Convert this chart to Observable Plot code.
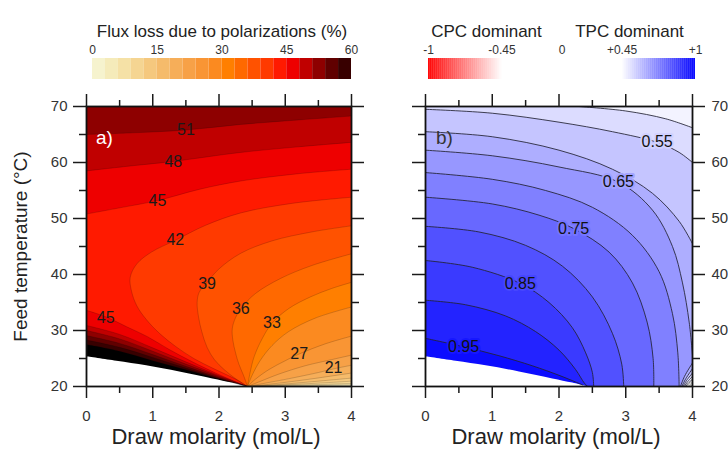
<!DOCTYPE html>
<html><head><meta charset="utf-8">
<script src="https://cdn.jsdelivr.net/npm/d3@7"></script>
<script src="https://cdn.jsdelivr.net/npm/@observablehq/plot@0.6"></script>
<style>
body{margin:0;background:#fff;}
#chart{position:relative;width:728px;height:457px;overflow:hidden;font-family:"Liberation Sans",Arial,sans-serif;background:#fff;}
#chart > svg{position:absolute;}
</style></head><body><div id="chart"></div>
<script>
// ---------------- data ----------------
const molarityDomain = [0, 4];
const tempDomain = [20, 70];
const molarityTicks = [0, 1, 2, 3, 4];
const molarityMinor = [0.5, 1.5, 2.5, 3.5];
const tempTicks = [20, 30, 40, 50, 60, 70];
const tempMinor = [25, 35, 45, 55, 65];

// panel a legend
const fluxLegendTitle = "Flux loss due to polarizations (%)";
const fluxLegendTicks = [0, 15, 30, 45, 60];
const fluxBandStarts = [0,3,6,9,12,15,18,21,24,27,30,33,36,39,42,45,48,51,54,57];
const fluxBandColors = ["#f6f3ce","#f5ebba","#f5e1a6","#f5d592","#f5c87e","#f5bb6b","#f6ae59","#f7a147","#f99534","#fb8a20",
                        "#ff7f00","#ff6900","#ff5200","#ff3a00","#ff1a00","#ee0000","#c00000","#8e0000","#600000","#380000"];
const fluxOverColor = "#000000";

// infeasible region edge (white area)
const infeasibleEdge = [[0,25.4],[0.45,24.6],[0.9,23.8],[1.4,22.7],[1.9,21.45],[2.2,20.7],[2.43,20]];

// panel a contours: fan lines from the convergence point to the right edge
const fluxFanLevels = [3,6,9,12,15,18,21,24,27,30,33];
const fluxFanLines = [
  [[2.43,20],[3.2,20.06],[4,20.12]],
  [[2.43,20],[3.2,20.15],[4,20.3]],
  [[2.43,20],[3.0,20.2],[3.5,20.35],[4,20.55]],
  [[2.43,20],[3.0,20.3],[3.5,20.6],[4,20.95]],
  [[2.43,20],[2.9,20.35],[3.4,20.85],[4,21.5]],
  [[2.43,20],[2.8,20.45],[3.3,21.2],[4,22.4]],
  [[2.43,20],[2.7,20.6],[3.1,21.5],[3.5,22.5],[3.73,23.15],[4,23.8]],
  [[2.43,20],[2.62,20.9],[2.9,22.2],[3.3,23.7],[3.7,24.8],[4,25.6]],
  [[2.43,20],[2.55,21.3],[2.75,23.0],[3.0,24.6],[3.21,25.8],[3.6,27.6],[4,29.0]],
  [[2.43,20],[2.5,22.0],[2.62,24.6],[2.8,27.3],[3.05,29.8],[3.45,32.2],[4,34.2]],
  [[2.43,20],[2.47,22.5],[2.53,25.3],[2.65,28.5],[2.8,31.3],[3.05,33.9],[3.38,36.0],[3.7,37.5],[4,38.6]]
];
// C-shaped lines: right edge -> nose -> convergence point
const fluxNoseLevels = [36,39,42];
const fluxNoseLines = [
  [[4,43.7],[3.4,41.6],[2.93,39.3],[2.55,36.6],[2.35,34.2],[2.25,32.3],[2.2,30.3],[2.21,28.2],[2.25,26.0],[2.3,24.0],[2.37,22.0],[2.43,20]],
  [[4,48.7],[3.4,47.6],[2.8,46.0],[2.33,43.8],[2.0,41.0],[1.82,38.6],[1.7,36.8],[1.67,35.0],[1.69,32.5],[1.74,29.8],[1.82,27.0],[1.93,24.8],[2.08,23.0],[2.25,21.4],[2.43,20]],
  [[4,53.8],[3.1,52.7],[2.33,51.0],[1.8,48.8],[1.34,46.1],[0.98,44.0],[0.76,41.9],[0.66,39.5],[0.68,37.0],[0.76,34.4],[0.9,32.0],[1.1,29.5],[1.34,27.2],[1.62,25.0],[1.9,23.3],[2.15,21.9],[2.3,21.0],[2.43,20]]
];
// upper lines, left edge -> right edge
const fluxTopLevels = [45,48,51];
const fluxTopLines = [
  [[0,50.8],[0.5,51.9],[1.07,53.2],[1.7,55.2],[2.33,56.7],[3.2,58.0],[4,58.8]],
  [[0,58.5],[0.6,59.3],[1.31,60.2],[2.33,61.8],[3.2,62.8],[4,63.6]],
  [[0,65.0],[0.7,65.3],[1.5,65.8],[2.33,66.8],[3.2,67.6],[4,68.3]]
];
// lower-left lines, left edge -> convergence point
const fluxLowLevels = [45,48,51,54,57,60];
const fluxLowLines = [
  [[0,33.6],[0.3,32.4],[0.6,30.7],[0.92,28.9],[1.25,26.6],[1.6,24.4],[1.95,22.4],[2.2,21.1],[2.43,20]],
  [[0,30.9],[0.5,29.3],[1.0,26.9],[1.5,24.4],[2.0,21.95],[2.43,20]],
  [[0,30.0],[0.5,28.5],[1.0,26.3],[1.5,24.0],[2.0,21.8],[2.43,20]],
  [[0,29.1],[0.5,27.7],[1.0,25.7],[1.5,23.6],[2.0,21.6],[2.43,20]],
  [[0,28.3],[0.5,27.0],[1.0,25.2],[1.5,23.3],[2.0,21.45],[2.43,20]],
  [[0,27.5],[0.5,26.3],[1.0,24.6],[1.5,23.0],[2.0,21.35],[2.43,20]]
];
const fluxLabels = [
  {t:"51",x:1.5,y:65.8},{t:"48",x:1.31,y:60.2},{t:"45",x:1.07,y:53.2},{t:"42",x:1.34,y:46.1},
  {t:"39",x:1.82,y:38.4},{t:"36",x:2.33,y:33.9},{t:"33",x:2.8,y:31.3},{t:"27",x:3.21,y:25.9},
  {t:"21",x:3.73,y:23.4},{t:"45",x:0.29,y:32.3}
];

// panel b legend
const tpcLegendTickValues = [-1, -0.45, 0, 0.45, 1];
const tpcLegendTickLabels = ["-1", "-0.45", "0", "+0.45", "+1"];
const tpcLegendTitles = ["CPC dominant", "TPC dominant"];

// panel b contours
const tpcEdgeLevels = [0.5,0.55,0.6,0.65];          // end on right edge
const tpcEdgeLines = [
  [[2.3,70],[3.0,69.2],[3.6,67.8],[4,66.2]],
  [[0,69.5],[1,68.8],[2,67.2],[2.8,65.5],[3.47,63.6],[3.8,61.8],[4,60.0]],
  [[0,65.5],[1,64.6],[2,62.2],[2.8,58.8],[3.4,54.5],[3.8,49.5],[4,45.5]],
  [[0,62.2],[1,61.2],[2,59.2],[2.89,56.5],[3.4,51.5],[3.7,45.0],[3.85,38.5],[3.95,31.5],[4,25.6]]
];
const tpcLowBranchLevels = [0.45,0.5,0.55,0.6,0.65]; // right edge -> bottom
const tpcLowBranches = [
  [[4,21.3],[3.93,20.5],[3.9,20]],
  [[4,21.8],[3.92,20.75],[3.88,20]],
  [[4,22.4],[3.91,21.05],[3.86,20]],
  [[4,23.2],[3.9,21.4],[3.84,20]],
  [[4,24.2],[3.88,21.8],[3.82,20]]
];
const tpcBottomLevels = [0.7,0.75,0.8,0.85,0.9,0.95];     // end on bottom
const tpcBottomLines = [
  [[0,58.2],[1,57.0],[1.8,55.0],[2.5,52.0],[3.1,47.0],[3.5,40.5],[3.7,33.0],[3.78,26.0],[3.8,20]],
  [[0,53.8],[1,52.6],[1.7,50.6],[2.22,48.2],[2.75,44.0],[3.1,38.5],[3.32,31.5],[3.41,25.0],[3.42,20]],
  [[0,48.6],[0.8,47.6],[1.5,45.2],[2.05,41.5],[2.5,36.0],[2.8,29.5],[2.94,24.0],[2.97,20]],
  [[0,42.5],[0.7,41.3],[1.42,38.4],[1.85,35.0],[2.2,30.5],[2.4,26.0],[2.5,22.5],[2.52,20]],
  [[0,35.4],[0.6,34.6],[1.2,32.6],[1.65,29.8],[2.0,26.5],[2.25,23.0],[2.38,20.6],[2.43,20]],
  [[0,28.6],[0.57,27.1],[1.1,25.5],[1.6,23.7],[2.0,22.0],[2.25,20.8],[2.35,20.3]]
];
const tpcFaintLines = [
  [[4,20.9],[3.94,20.35],[3.92,20]],
  [[4,20.6],[3.95,20.2],[3.94,20]],
  [[4,20.35],[3.96,20]]
];
const tpcLabels = [
  {t:"0.55",L:0.55,x:3.47,y:63.6},{t:"0.65",L:0.65,x:2.89,y:56.5},{t:"0.75",L:0.75,x:2.22,y:48.2},
  {t:"0.85",L:0.85,x:1.42,y:38.4},{t:"0.95",L:0.95,x:0.57,y:27.1}
];

// ---------------- helpers ----------------
const FONT = "Liberation Sans, Arial, sans-serif";
const [X0, X1] = molarityDomain, [Y0, Y1] = tempDomain;
const TL = [X0, Y1], TR = [X1, Y1], BL = [X0, Y0];
// polygon ring: lines keep their shape, corners become sharp (duplicated points)
const ring = (...parts) => parts.flatMap(p => typeof p[0] === "number" ? [p, p] : [p[0], ...p, p[p.length - 1]]);
const px = d => d[0], py = d => d[1];
const fillArea = (pts, fill) => Plot.line(pts, {x: px, y: py, fill, stroke: "none", curve: "catmull-rom", clip: true});
const strokeLine = (pts, stroke, opacity, width) => Plot.line(pts, {x: px, y: py, stroke, strokeOpacity: opacity, strokeWidth: width, curve: "catmull-rom", clip: true});
const fluxColor = L => L >= 60 ? fluxOverColor : fluxBandColors[fluxBandStarts.indexOf(L)];
const blueRamp = d3.interpolateRgb("#ffffff", "#0000ff");
const tpcColor = L => blueRamp(Math.min(1, (L + 0.025 - 0.45) / 0.55));
const blank = () => "";
const axisStyle = {stroke: "#1a1a1a", strokeWidth: 1.5, fill: "#333", label: null};

function panelAxes(leftLabels, rightLabels) {
  return [
    Plot.axisX(molarityTicks, {...axisStyle, anchor: "bottom", tickSize: 12, tickPadding: 12, fontSize: 15}),
    Plot.axisX(molarityMinor, {...axisStyle, anchor: "bottom", tickSize: 7, tickFormat: blank}),
    Plot.axisX(molarityTicks, {...axisStyle, anchor: "top", tickSize: 13, tickFormat: blank}),
    Plot.axisX(molarityMinor, {...axisStyle, anchor: "top", tickSize: 7, tickFormat: blank}),
    Plot.axisY(tempTicks, {...axisStyle, anchor: "left", tickSize: 13, tickPadding: 6, fontSize: 15, tickFormat: leftLabels ? undefined : blank}),
    Plot.axisY(tempMinor, {...axisStyle, anchor: "left", tickSize: 7, tickFormat: blank}),
    Plot.axisY(tempTicks, {...axisStyle, anchor: "right", tickSize: 12, tickPadding: 7, fontSize: 15, tickFormat: rightLabels ? undefined : blank}),
    Plot.axisY(tempMinor, {...axisStyle, anchor: "right", tickSize: 7, tickFormat: blank})
  ];
}

const root = document.getElementById("chart");
function place(svg, left, top) { svg.style.left = left + "px"; svg.style.top = top + "px"; root.appendChild(svg); }

// ---------------- panel a ----------------
const aMarks = [Plot.frame({fill: fluxBandColors[0], stroke: "none"})];
fluxFanLines.forEach((ln, i) => aMarks.push(fillArea(ring(ln, TR, TL, BL), fluxColor(fluxFanLevels[i]))));
fluxNoseLines.forEach((ln, i) => aMarks.push(fillArea(ring(ln, BL, TL, TR), fluxColor(fluxNoseLevels[i]))));
fluxLowLevels.forEach((L, i) => {
  const t = fluxTopLevels.indexOf(L);
  if (t >= 0) aMarks.push(fillArea(ring(fluxTopLines[t], TR, TL), fluxColor(L)));
  aMarks.push(fillArea(ring(fluxLowLines[i], BL), fluxColor(L)));
});
aMarks.push(fillArea(ring(infeasibleEdge, BL), "#ffffff"));
[...fluxFanLines, ...fluxNoseLines, ...fluxTopLines, ...fluxLowLines].forEach(ln => aMarks.push(strokeLine(ln, "#000", 0.22, 0.8)));
aMarks.push(
  Plot.text(fluxLabels, {x: "x", y: "y", text: "t", fontSize: 16, fill: "#1a1a1a"}),
  Plot.text(["a)"], {text: d => d, frameAnchor: "top-left", textAnchor: "middle", dx: 18, dy: 24, fontSize: 19, fill: "#fff"}),
  Plot.frame({stroke: "#111", strokeWidth: 1.8}),
  ...panelAxes(true, false),
  Plot.text(["Draw molarity (mol/L)"], {text: d => d, frameAnchor: "bottom", dx: -3, dy: 57, fontSize: 22, fill: "#222"}),
  Plot.text(["Feed temperature (°C)"], {text: d => d, frameAnchor: "left", textAnchor: "middle", dx: -66, rotate: -90, fontSize: 19, fill: "#222"})
);
place(Plot.plot({
  width: 390, height: 362, marginLeft: 86, marginRight: 39, marginTop: 11, marginBottom: 71,
  x: {domain: molarityDomain}, y: {domain: tempDomain},
  style: {fontFamily: FONT, background: "transparent", overflow: "visible"},
  marks: aMarks
}), 0, 95);

// ---------------- panel b ----------------
const bMarks = [];
const lowOf = L => tpcLowBranches[tpcLowBranchLevels.findIndex(v => Math.abs(v - L) < 1e-9)];
bMarks.push(fillArea(ring(BL, TL, TR, lowOf(0.45)), tpcColor(0.45)));
tpcEdgeLines.forEach((ln, i) => {
  const L = tpcEdgeLevels[i];
  const parts = ln[0][1] === Y1 && ln[0][0] > X0 ? [BL, TL, ln, lowOf(L)] : [BL, ln, lowOf(L)];
  bMarks.push(fillArea(ring(...parts), tpcColor(L)));
});
tpcBottomLines.forEach((ln, i) => bMarks.push(fillArea(ring(BL, ln), tpcColor(tpcBottomLevels[i]))));
bMarks.push(fillArea(ring(infeasibleEdge, BL), "#ffffff"));
[...tpcEdgeLines, ...tpcBottomLines, ...tpcLowBranches].forEach(ln => bMarks.push(strokeLine(ln, "#222233", 0.85, 1)));
tpcFaintLines.forEach(ln => bMarks.push(strokeLine(ln, "#555", 0.6, 0.8)));
bMarks.push(
  Plot.text(tpcLabels, {x: "x", y: "y", text: "t", fontSize: 16, fill: "#111",
    stroke: d => blueRamp((d.L - 0.45) / 0.55), strokeWidth: 4, paintOrder: "stroke"}),
  Plot.text(["b)"], {text: d => d, frameAnchor: "top-left", textAnchor: "middle", dx: 19, dy: 24, fontSize: 19, fill: "#333"}),
  Plot.frame({stroke: "#111", strokeWidth: 1.8}),
  ...panelAxes(false, true),
  Plot.text(["Draw molarity (mol/L)"], {text: d => d, frameAnchor: "bottom", dx: -3, dy: 57, fontSize: 22, fill: "#222"})
);
place(Plot.plot({
  width: 338, height: 362, marginLeft: 35, marginRight: 36, marginTop: 11, marginBottom: 71,
  x: {domain: molarityDomain}, y: {domain: tempDomain},
  color: {type: "identity"},
  style: {fontFamily: FONT, background: "transparent", overflow: "visible"},
  marks: bMarks
}), 390, 95);

// ---------------- legend a ----------------
place(Plot.plot({
  width: 390, height: 95, marginLeft: 92, marginRight: 39, marginTop: 58, marginBottom: 16,
  x: {domain: [fluxLegendTicks[0], fluxLegendTicks[fluxLegendTicks.length - 1]]},
  color: {type: "identity"},
  style: {fontFamily: FONT, background: "transparent", overflow: "visible"},
  marks: [
    Plot.rect(fluxBandStarts, {x1: d => d, x2: d => d + 3, fill: (d, i) => fluxBandColors[i]}),
    Plot.axisX(fluxLegendTicks, {anchor: "top", tickSize: 0, tickPadding: 5, fontSize: 12, fill: "#333", label: null}),
    Plot.text([fluxLegendTitle], {text: d => d, frameAnchor: "top", dy: -34, fontSize: 17, fill: "#222"})
  ]
}), 0, 0);

// ---------------- legend b ----------------
const rampSteps = d3.range(0, 1, 1 / 110);
const cpcColor = d3.interpolateRgb("#ff0000", "#ffffff");
place(Plot.plot({
  width: 338, height: 95, marginLeft: 38, marginRight: 33, marginTop: 58, marginBottom: 16,
  x: {domain: [-1, 1]},
  color: {type: "identity"},
  style: {fontFamily: FONT, background: "transparent", overflow: "visible"},
  marks: [
    Plot.rect(rampSteps, {x1: t => -1 + t * 0.55, x2: t => -1 + (t + 1 / 110) * 0.55 + 0.002, fill: t => cpcColor(t)}),
    Plot.rect(rampSteps, {x1: t => 0.45 + t * 0.55 - 0.002, x2: t => 0.45 + (t + 1 / 110) * 0.55, fill: t => blueRamp(t)}),
    Plot.axisX(tpcLegendTickValues, {anchor: "top", tickSize: 0, tickPadding: 5, fontSize: 12, fill: "#333", label: null,
      tickFormat: d => tpcLegendTickLabels[tpcLegendTickValues.indexOf(d)]}),
    Plot.text([tpcLegendTitles[0]], {text: d => d, frameAnchor: "top-left", textAnchor: "middle", dx: 58, dy: -34, fontSize: 17, fill: "#222"}),
    Plot.text([tpcLegendTitles[1]], {text: d => d, frameAnchor: "top-left", textAnchor: "middle", dx: 201, dy: -34, fontSize: 17, fill: "#222"})
  ]
}), 390, 0);
</script></body></html>
